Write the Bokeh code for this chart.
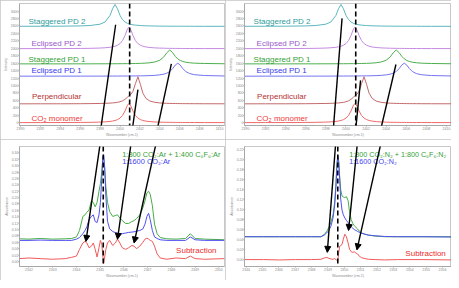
from bokeh.plotting import figure
from bokeh.models import Arrow, NormalHead, Span, FixedTicker, ColumnDataSource, Range1d
from bokeh.layouts import gridplot
from bokeh.core.properties import value
from bokeh.embed import file_html
from bokeh.resources import INLINE

# ---------------- data: calculated spectra (top panels) ----------------
TOP_X = [2389.9, 2392, 2394, 2396, 2397, 2398, 2398.5, 2399, 2399.25, 2399.5,
         2399.75, 2400, 2400.25, 2400.5, 2400.75, 2400.9, 2401.1, 2401.3, 2401.55, 2401.8,
         2402.05, 2402.3, 2402.6, 2403, 2403.5, 2404, 2404.4, 2404.7, 2405, 2405.3,
         2405.55, 2405.8, 2406.05, 2406.3, 2406.6, 2407, 2407.5, 2408.5, 2410.6]
STAGGERED_PD2 = [2592, 2593, 2595, 2602, 2613, 2649, 2708, 2885, 3062, 3180,
                 3062, 2885, 2772, 2708, 2671, 2657, 2643, 2632, 2623, 2617,
                 2612, 2608, 2605, 2602, 2599, 2597, 2596, 2595, 2595, 2594,
                 2594, 2594, 2593, 2593, 2593, 2593, 2592, 2592, 2591]
ECLIPSED_PD2 = [1991, 1992, 1993, 1996, 1999, 2007, 2014, 2028, 2039, 2056,
                2082, 2127, 2206, 2344, 2522, 2570, 2490, 2344, 2206, 2127,
                2082, 2056, 2036, 2021, 2011, 2005, 2002, 2000, 1998, 1997,
                1997, 1996, 1995, 1995, 1994, 1994, 1993, 1992, 1992]
STAGGERED_PD1 = [1581, 1581, 1581, 1582, 1582, 1583, 1583, 1584, 1584, 1584,
                 1585, 1585, 1586, 1587, 1587, 1588, 1589, 1590, 1591, 1593,
                 1595, 1598, 1602, 1611, 1632, 1679, 1768, 1880, 1955, 1880,
                 1784, 1715, 1672, 1646, 1626, 1611, 1600, 1591, 1584]
ECLIPSED_PD1 = [1250, 1251, 1251, 1251, 1252, 1252, 1252, 1253, 1253, 1253,
                1253, 1254, 1254, 1254, 1255, 1255, 1256, 1256, 1257, 1258,
                1259, 1260, 1262, 1265, 1272, 1285, 1304, 1330, 1376, 1457,
                1548, 1600, 1548, 1457, 1376, 1320, 1289, 1267, 1255]
PERPENDICULAR = [506, 507, 507, 509, 512, 516, 519, 526, 530, 537,
                 547, 562, 586, 627, 686, 721, 765, 841, 1049, 1234,
                 1028, 791, 654, 581, 546, 530, 523, 520, 517, 515,
                 514, 513, 512, 511, 511, 510, 509, 508, 507]
CO2_MONOMER = [1, 2, 3, 5, 8, 15, 21, 33, 43, 58,
               82, 121, 191, 313, 471, 513, 442, 313, 191, 121,
               82, 58, 41, 28, 18, 13, 10, 9, 8, 7,
               6, 5, 5, 4, 4, 3, 3, 2, 1]
TOP_NAMES = ["Staggered PD 2", "Eclipsed PD 2", "Staggered PD 1", "Eclipsed PD 1",
             "Perpendicular", "CO\u2082 monomer"]

# ---------------- data: Ar matrix (bottom left) ----------------
AR_X = [2341.60, 2342.00, 2342.47, 2343.00, 2343.53, 2343.80, 2344.00, 2344.13, 2344.27, 2344.36,
        2344.44, 2344.53, 2344.63, 2344.71, 2344.79, 2344.87, 2344.95, 2345.01, 2345.07, 2345.11,
        2345.15, 2345.19, 2345.24, 2345.31, 2345.40, 2345.53, 2345.64, 2345.73, 2345.83, 2345.93,
        2346.07, 2346.20, 2346.33, 2346.43, 2346.53, 2346.67, 2346.80, 2346.89, 2346.97, 2347.04,
        2347.11, 2347.20, 2347.29, 2347.40, 2347.53, 2347.80, 2348.20, 2348.60, 2348.80, 2349.00,
        2349.40, 2350.24]
AR_MIX = [0.071, 0.070, 0.072, 0.070, 0.071, 0.072, 0.077, 0.097, 0.141, 0.146,
          0.154, 0.161, 0.190, 0.185, 0.171, 0.185, 0.220, 0.244, 0.283, 0.321,
          0.323, 0.293, 0.234, 0.185, 0.156, 0.141, 0.144, 0.146, 0.136, 0.128,
          0.119, 0.119, 0.125, 0.128, 0.134, 0.146, 0.168, 0.190, 0.215, 0.220,
          0.210, 0.175, 0.117, 0.087, 0.075, 0.071, 0.070, 0.072, 0.087, 0.072,
          0.070, 0.068]
AR_CO2 = [0.066, 0.066, 0.067, 0.066, 0.066, 0.066, 0.070, 0.075, 0.087, 0.097,
          0.109, 0.131, 0.141, 0.146, 0.125, 0.122, 0.146, 0.185, 0.264, 0.327,
          0.334, 0.293, 0.205, 0.126, 0.102, 0.094, 0.090, 0.087, 0.087, 0.087,
          0.089, 0.091, 0.092, 0.093, 0.095, 0.097, 0.102, 0.117, 0.141, 0.151,
          0.131, 0.097, 0.077, 0.072, 0.068, 0.066, 0.066, 0.066, 0.077, 0.068,
          0.066, 0.066]
AR_SUB = [0.009, 0.011, 0.009, 0.007, 0.009, 0.013, 0.017, 0.038, 0.058, 0.063,
          0.058, 0.043, 0.048, 0.058, 0.038, 0.014, 0.043, 0.066, 0.053, 0.019,
          -0.006, 0.014, 0.038, 0.058, 0.066, 0.050, 0.058, 0.070, 0.058, 0.043,
          0.038, 0.043, 0.050, 0.048, 0.040, 0.048, 0.060, 0.070, 0.073, 0.070,
          0.066, 0.063, 0.048, 0.024, 0.011, 0.007, 0.011, 0.009, 0.017, 0.009,
          0.007, 0.009]

# ---------------- data: N2 matrix (bottom right) ----------------
N2_X = [2343.90, 2345.07, 2346.04, 2347.02, 2347.99, 2348.57, 2348.77, 2348.92, 2349.06, 2349.19,
        2349.31, 2349.41, 2349.49, 2349.54, 2349.60, 2349.66, 2349.72, 2349.78, 2349.86, 2349.94,
        2350.03, 2350.13, 2350.23, 2350.32, 2350.42, 2350.52, 2350.61, 2350.71, 2350.81, 2350.91,
        2351.06, 2351.26, 2351.49, 2351.88, 2352.46, 2353.24, 2354.80, 2356.55]
N2_MIX = [0.045, 0.045, 0.045, 0.045, 0.045, 0.045, 0.0494, 0.0556, 0.0638, 0.075,
          0.0888, 0.1138, 0.1513, 0.1888, 0.2044, 0.1919, 0.1638, 0.1388, 0.1263, 0.1244,
          0.1231, 0.125, 0.1169, 0.095, 0.0794, 0.0713, 0.0669, 0.0638, 0.0606, 0.0563,
          0.0525, 0.05, 0.0481, 0.0463, 0.045, 0.045, 0.045, 0.045]
N2_CO2 = [0.045, 0.045, 0.045, 0.045, 0.045, 0.045, 0.0481, 0.0525, 0.0575, 0.0669,
          0.0825, 0.1075, 0.145, 0.1825, 0.2075, 0.195, 0.1575, 0.12, 0.0981, 0.0888,
          0.0825, 0.0775, 0.0731, 0.0688, 0.065, 0.0619, 0.0594, 0.0575, 0.0556, 0.0538,
          0.0519, 0.05, 0.0481, 0.0469, 0.0456, 0.045, 0.045, 0.0444]
N2_SUB = [-0.0006, -0.0006, -0.0013, -0.0006, -0.0006, 0.0, 0.0025, 0.0038, 0.0019, 0.0006,
          0.0, 0.0013, -0.0006, -0.0019, -0.0038, 0.0138, 0.0263, 0.0275, 0.0294, 0.04,
          0.05, 0.045, 0.0325, 0.02, 0.015, 0.0138, 0.015, 0.0125, 0.0106, 0.0063,
          0.0031, 0.0013, 0.0, -0.0006, -0.0013, -0.0006, -0.0006, -0.0013]

# ---------------- tick values ----------------
TOP_X_TICKS = [2390, 2392, 2394, 2396, 2398, 2400, 2402, 2404, 2406, 2408, 2410]
TOP_Y_TICKS = [0, 200, 400, 600, 800, 1000, 1200, 1400, 1600, 1800, 2000,
               2200, 2400, 2600, 2800, 3000]
AR_X_TICKS = [2342, 2343, 2344, 2345, 2346, 2347, 2348, 2349, 2350]
AR_Y_TICKS = [0.00, 0.02, 0.04, 0.06, 0.08, 0.10, 0.12, 0.14, 0.16, 0.18,
              0.20, 0.22, 0.24, 0.26, 0.28, 0.30, 0.32, 0.34]
N2_X_TICKS = [2344, 2345, 2346, 2347, 2348, 2349, 2350, 2351, 2352, 2353, 2354, 2355, 2356]
N2_Y_TICKS = [0.00, 0.02, 0.04, 0.06, 0.08, 0.10, 0.12, 0.14, 0.16, 0.18, 0.20, 0.22]

FONT = "Liberation Sans"
TOP_LINE_COLORS = ["#5db6be", "#c58ae0", "#4caf4c", "#7474f2", "#c46a6a", "#f06a6a"]
TOP_TEXT_COLORS = ["#2e9c9c", "#9a58cc", "#35a035", "#3a3aee", "#b43232", "#ee3a3a"]


def make_fig(w, h, xr, yr, xticks, yticks, ylabel, left, right, top, bottom, ydec):
    p = figure(width=w, height=h, x_range=Range1d(*xr), y_range=Range1d(*yr),
               output_backend="svg", toolbar_location=None,
               min_border_left=left, min_border_right=right,
               min_border_top=top, min_border_bottom=bottom)
    p.background_fill_color = "white"
    p.border_fill_color = "white"
    p.outline_line_color = "#c8c8c8"
    p.xgrid.visible = False
    p.ygrid.visible = False
    p.xaxis.ticker = FixedTicker(ticks=xticks)
    p.yaxis.ticker = FixedTicker(ticks=yticks)
    if ydec:
        p.yaxis.major_label_overrides = {t: f"{t:.2f}" for t in yticks}
    p.xaxis.axis_label = "Wavenumber (cm-1)"
    p.yaxis.axis_label = ylabel
    for ax in (p.xaxis[0], p.yaxis[0]):
        ax.axis_line_color = "#a8a8a8"
        ax.major_tick_line_color = "#a8a8a8"
        ax.minor_tick_line_color = None
        ax.major_tick_out = 1
        ax.major_tick_in = 0
        ax.major_label_text_font_size = "3.5px"
        ax.major_label_text_color = "#8a8a8a"
        ax.major_label_text_font = FONT
        ax.axis_label_text_font_size = "3.5px"
        ax.axis_label_text_font_style = "normal"
        ax.axis_label_text_color = "#8a8a8a"
        ax.axis_label_text_font = FONT
        ax.major_label_standoff = 0
        ax.axis_label_standoff = 0
    p.styles = {"outline": "1px solid #c4c4c4", "outline-offset": "-1px"}
    return p


def add_arrow(p, x0, y0, x1, y1, head):
    p.add_layout(Arrow(x_start=x0, y_start=y0, x_end=x1, y_end=y1,
                       line_color="black", line_width=1.4,
                       end=NormalHead(size=6, fill_color="black", line_color="black") if head else None))


def add_dash(p, x):
    p.add_layout(Span(location=x, dimension="height", line_color="black",
                      line_width=1.6, line_dash="5 3"))


# ---------------- top panels ----------------
top_series = [STAGGERED_PD2, ECLIPSED_PD2, STAGGERED_PD1, ECLIPSED_PD1, PERPENDICULAR, CO2_MONOMER]
label_x = [2390.8, 2391.1, 2390.8, 2391.1, 2391.15, 2391.1]
label_y = [2709, 2120, 1709, 1410, 709, 111]

tops = []
for w, left, right in ((225, 12, 1), (226, 16, 0)):
    p = make_fig(w, 139, (2389.9, 2410.5), (-77, 3205), TOP_X_TICKS, TOP_Y_TICKS, "Intensity",
                 left, right, 3, 12, False)
    for ys, c in zip(top_series, TOP_LINE_COLORS):
        p.line(TOP_X, ys, line_color=c, line_width=1)
    src = ColumnDataSource(dict(x=label_x, y=label_y, t=TOP_NAMES, c=TOP_TEXT_COLORS))
    p.text(x="x", y="y", text="t", text_color="c", source=src, text_font=value(FONT),
           text_font_size="8px", text_baseline="middle", text_align="left")
    add_dash(p, 2400.97)
    tops.append(p)

# arrows, top parts
add_arrow(tops[0], 2399.56, 2633, 2397.9, -480, False)
add_arrow(tops[0], 2401.80, 890, 2401.08, -480, False)
add_arrow(tops[0], 2405.16, 1582, 2403.5, -480, False)
add_arrow(tops[1], 2399.61, 2805, 2398.65, -480, False)
add_arrow(tops[1], 2401.45, 1138, 2400.86, -480, False)
add_arrow(tops[1], 2404.97, 1564, 2403.2, -480, False)

# ---------------- bottom left (Ar) ----------------
pa = make_fig(225, 141, (2341.6, 2350.24), (-0.0157, 0.36), AR_X_TICKS, AR_Y_TICKS, "Absorbance",
              11, 1, 7, 10, True)
pa.line(AR_X, AR_MIX, line_color="#46ad46", line_width=1)
pa.line(AR_X, AR_CO2, line_color="#5050f0", line_width=1)
pa.line(AR_X, AR_SUB, line_color="#f05a5a", line_width=1)
pa.text(x=[2345.93], y=[0.334], text=["1:800 CO\u2082:Ar + 1:400 C\u2086F\u2086:Ar"],
        text_color="#38a038", text_font=value(FONT), text_font_size="7.4px",
        text_baseline="middle")
pa.text(x=[2345.93], y=[0.313], text=["1:1600 CO\u2082:Ar"],
        text_color="#4444ee", text_font=value(FONT), text_font_size="7.4px",
        text_baseline="middle")
pa.text(x=[2348.2], y=[0.035], text=["Subtraction"],
        text_color="#ee2a2a", text_font=value(FONT), text_font_size="8px",
        text_baseline="middle")
add_dash(pa, 2345.13)
add_arrow(pa, 2345.05, 0.395, 2344.40, 0.0628, True)
add_arrow(pa, 2346.35, 0.395, 2345.73, 0.0696, True)
add_arrow(pa, 2347.43, 0.395, 2346.43, 0.0578, True)

# ---------------- bottom right (N2) ----------------
pn = make_fig(226, 141, (2343.9, 2356.55), (-0.0144, 0.225), N2_X_TICKS, N2_Y_TICKS, "Absorbance",
              13, 0, 7, 10, True)
pn.line(N2_X, N2_MIX, line_color="#46ad46", line_width=1)
pn.line(N2_X, N2_CO2, line_color="#5050f0", line_width=1)
pn.line(N2_X, N2_SUB, line_color="#f05a5a", line_width=1)
pn.text(x=[2350.3], y=[0.209], text=["1:800 CO\u2082:N\u2082 + 1:800 C\u2086F\u2086:N\u2082"],
        text_color="#38a038", text_font=value(FONT), text_font_size="7.2px",
        text_baseline="middle")
pn.text(x=[2350.3], y=[0.195], text=["1:1600 CO\u2082:N\u2082"],
        text_color="#4444ee", text_font=value(FONT), text_font_size="7.2px",
        text_baseline="middle")
pn.text(x=[2353.73], y=[0.0106], text=["Subtraction"],
        text_color="#ee2a2a", text_font=value(FONT), text_font_size="8px",
        text_baseline="middle")
add_dash(pn, 2349.60)
add_arrow(pn, 2349.51, 0.248, 2348.96, 0.01375, True)
add_arrow(pn, 2350.85, 0.248, 2350.26, 0.0575, True)
add_arrow(pn, 2352.35, 0.248, 2350.77, 0.01875, True)

grid = gridplot([[tops[0], tops[1]], [pa, pn]], toolbar_location=None)
open("out.html", "w").write(file_html(grid, INLINE))
